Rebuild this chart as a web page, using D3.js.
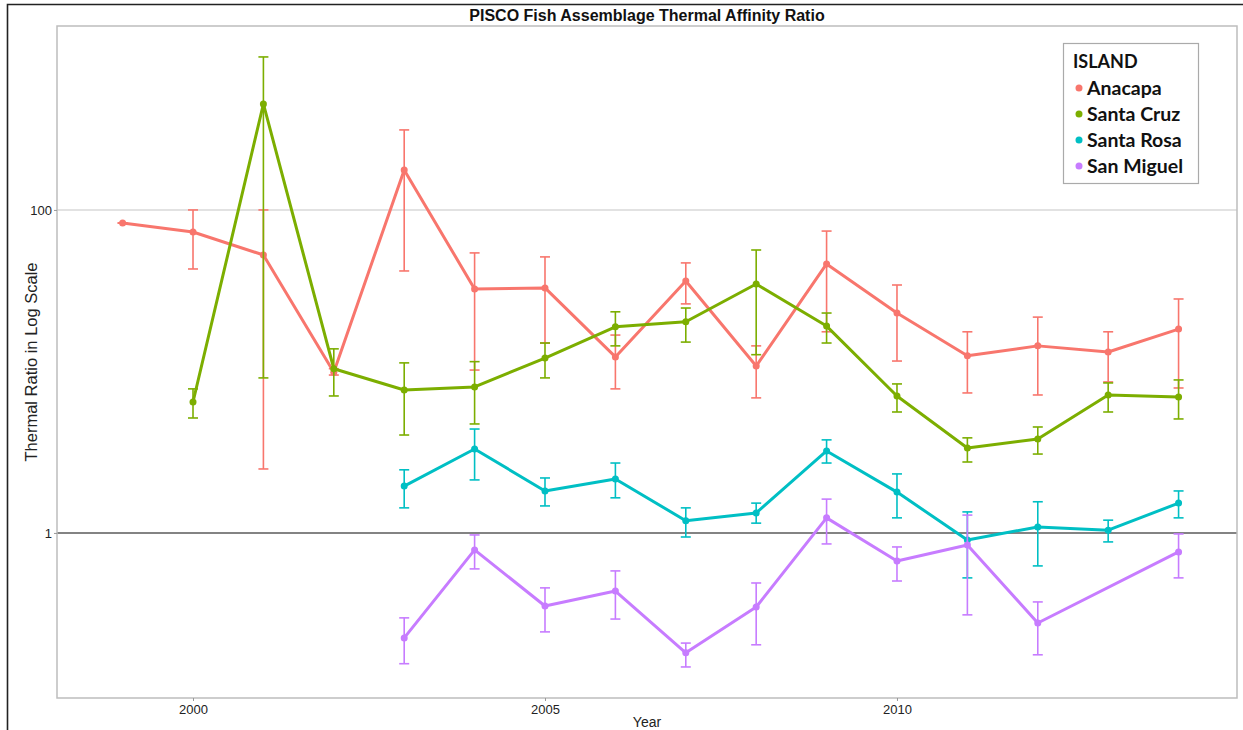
<!DOCTYPE html>
<html>
<head>
<meta charset="utf-8">
<script src="https://cdn.jsdelivr.net/npm/d3@7"></script>
<style>
  html, body { margin: 0; padding: 0; background: #fff; }
  svg { display: block; }
</style>
</head>
<body>
<svg id="chart" width="1243" height="730"></svg>
<script>
// ---- data ----
const islands = ["Anacapa", "Santa Cruz", "Santa Rosa", "San Miguel"];
const islandColors = ["#F8766D", "#7CAE00", "#00BFC4", "#C77CFF"];

const anacapaYears = [1999, 2000, 2001, 2002, 2003, 2004, 2005, 2006, 2007, 2008, 2009, 2010, 2011, 2012, 2013, 2014];
const anacapaMean  = [83, 73, 52.6, 9.9, 177, 32.4, 32.9, 12.3, 36.3, 10.8, 46.3, 23.0, 12.5, 14.4, 13.2, 18.3];
const anacapaLow   = [83, 43.1, 2.49, 9.5, 41.9, 10.2, 15.0, 7.8, 26.2, 6.86, 17.6, 11.6, 7.36, 7.15, 8.61, 7.9];
const anacapaHigh  = [83, 100, 100, 10.4, 313, 54.2, 51.2, 16.8, 47, 14.4, 74, 34.3, 17.6, 21.7, 17.6, 28.1];

const santaCruzYears = [2000, 2001, 2002, 2003, 2004, 2005, 2006, 2007, 2008, 2009, 2010, 2011, 2012, 2013, 2014];
const santaCruzMean  = [6.47, 453, 10.4, 7.68, 8.02, 12.1, 18.9, 20.3, 34.8, 19.1, 7.05, 3.36, 3.82, 7.15, 6.95];
const santaCruzLow   = [5.15, 9.12, 7.05, 4.04, 4.73, 9.12, 14.4, 15.2, 12.7, 15.0, 5.61, 2.75, 3.08, 5.61, 5.08];
const santaCruzHigh  = [7.8, 886, 13.8, 11.3, 11.5, 15.0, 23.4, 24.7, 56.5, 23.0, 8.37, 3.88, 4.53, 8.49, 8.86];

const santaRosaYears = [2003, 2004, 2005, 2006, 2007, 2008, 2009, 2010, 2011, 2012, 2013, 2014];
const santaRosaMean  = [1.95, 3.31, 1.82, 2.16, 1.19, 1.33, 3.22, 1.79, 0.905, 1.09, 1.04, 1.53];
const santaRosaLow   = [1.43, 2.13, 1.47, 1.65, 0.944, 1.15, 2.71, 1.24, 0.527, 0.625, 0.88, 1.24];
const santaRosaHigh  = [2.46, 4.40, 2.19, 2.71, 1.43, 1.53, 3.77, 2.32, 1.35, 1.56, 1.20, 1.82];

const sanMiguelYears = [2003, 2004, 2005, 2006, 2007, 2008, 2009, 2010, 2011, 2012, 2014];
const sanMiguelMean  = [0.224, 0.785, 0.353, 0.437, 0.181, 0.348, 1.24, 0.671, 0.843, 0.277, 0.763];
const sanMiguelLow   = [0.155, 0.599, 0.244, 0.293, 0.148, 0.203, 0.855, 0.504, 0.311, 0.176, 0.527];
const sanMiguelHigh  = [0.298, 0.972, 0.457, 0.582, 0.208, 0.490, 1.62, 0.819, 1.29, 0.374, 0.986];

const xTicks = [2000, 2005, 2010];
const yTicks = [1, 100];
const yTickLabels = ["1", "100"];

const titleText = "PISCO Fish Assemblage Thermal Affinity Ratio";
const xTitle = "Year";
const yTitle = "Thermal Ratio in Log Scale";
const legendTitle = "ISLAND";

// ---- build series ----
function build(years, mean, low, high) {
  return years.map((yr, i) => ({ year: yr, mean: mean[i], low: low[i], high: high[i] }));
}
const series = [
  build(anacapaYears, anacapaMean, anacapaLow, anacapaHigh),
  build(santaCruzYears, santaCruzMean, santaCruzLow, santaCruzHigh),
  build(santaRosaYears, santaRosaMean, santaRosaLow, santaRosaHigh),
  build(sanMiguelYears, sanMiguelMean, sanMiguelLow, sanMiguelHigh)
];

// ---- layout ----
const svg = d3.select("#chart");
const panel = { left: 57, right: 1237, top: 26, bottom: 698 };
const FONT = "Liberation Sans, Arial, sans-serif";

const x = d3.scaleLinear().domain([1998.068, 2014.83]).range([panel.left, panel.right]);
const y = d3.scaleLog().domain([Math.pow(10, -1.022), Math.pow(10, 3.139)]).range([panel.bottom, panel.top]);

// outer frame
svg.append("path")
  .attr("d", "M7.5,730 L7.5,4.5 L1243,4.5")
  .attr("fill", "none").attr("stroke", "#222").attr("stroke-width", 1.6);

// panel background
svg.append("rect")
  .attr("x", panel.left).attr("y", panel.top)
  .attr("width", panel.right - panel.left).attr("height", panel.bottom - panel.top)
  .attr("fill", "#fff");

// gridline at 100
svg.append("line")
  .attr("x1", panel.left).attr("x2", panel.right)
  .attr("y1", y(100)).attr("y2", y(100))
  .attr("stroke", "#d9d9d9").attr("stroke-width", 1.5);

// reference line at 1
svg.append("line")
  .attr("x1", panel.left).attr("x2", panel.right)
  .attr("y1", y(1)).attr("y2", y(1))
  .attr("stroke", "#5a5a5a").attr("stroke-width", 1.5);

// panel border
svg.append("rect")
  .attr("x", panel.left).attr("y", panel.top)
  .attr("width", panel.right - panel.left).attr("height", panel.bottom - panel.top)
  .attr("fill", "none").attr("stroke", "#bdbdbd").attr("stroke-width", 1.5);

// axes
const xAxis = d3.axisBottom(x).tickValues(xTicks).tickFormat(d3.format("d")).tickSize(3).tickPadding(4);
const gx = svg.append("g").attr("transform", `translate(0,${panel.bottom})`).call(xAxis);
gx.select(".domain").remove();
gx.selectAll(".tick line").attr("stroke", "#999");
gx.selectAll(".tick text").attr("fill", "#222").attr("font-family", FONT).attr("font-size", 13);

const yAxis = d3.axisLeft(y).tickValues(yTicks).tickFormat(d => yTickLabels[yTicks.indexOf(d)]).tickSize(3).tickPadding(2);
const gy = svg.append("g").attr("transform", `translate(${panel.left},0)`).call(yAxis);
gy.select(".domain").remove();
gy.selectAll(".tick line").attr("stroke", "#999");
gy.selectAll(".tick text").attr("fill", "#222").attr("font-family", FONT).attr("font-size", 13);

// titles
svg.append("text")
  .attr("x", (panel.left + panel.right) / 2).attr("y", 21)
  .attr("text-anchor", "middle")
  .attr("font-family", FONT)
  .attr("font-weight", "bold").attr("font-size", 16).attr("fill", "#111")
  .text(titleText);

svg.append("text")
  .attr("x", (panel.left + panel.right) / 2).attr("y", 727)
  .attr("text-anchor", "middle")
  .attr("font-family", FONT)
  .attr("font-size", 14).attr("fill", "#222")
  .text(xTitle);

svg.append("text")
  .attr("transform", `translate(37,${(panel.top + panel.bottom) / 2}) rotate(-90)`)
  .attr("text-anchor", "middle")
  .attr("font-family", FONT)
  .attr("font-size", 16.5).attr("fill", "#222")
  .text(yTitle);

// data
const line = d3.line().x(d => x(d.year)).y(d => y(d.mean));
const capHalf = 5;

series.forEach((s, i) => {
  const col = islandColors[i];
  const g = svg.append("g");
  const eb = g.selectAll(".eb").data(s).enter().append("g");
  eb.append("line")
    .attr("x1", d => x(d.year)).attr("x2", d => x(d.year))
    .attr("y1", d => y(d.low)).attr("y2", d => y(d.high))
    .attr("stroke", col).attr("stroke-width", 1.6);
  eb.append("line")
    .attr("x1", d => x(d.year) - capHalf).attr("x2", d => x(d.year) + capHalf)
    .attr("y1", d => y(d.low)).attr("y2", d => y(d.low))
    .attr("stroke", col).attr("stroke-width", 1.6);
  eb.append("line")
    .attr("x1", d => x(d.year) - capHalf).attr("x2", d => x(d.year) + capHalf)
    .attr("y1", d => y(d.high)).attr("y2", d => y(d.high))
    .attr("stroke", col).attr("stroke-width", 1.6);
  g.append("path").datum(s)
    .attr("d", line)
    .attr("fill", "none").attr("stroke", col)
    .attr("stroke-width", 3).attr("stroke-linejoin", "round");
  g.selectAll("circle").data(s).enter().append("circle")
    .attr("cx", d => x(d.year)).attr("cy", d => y(d.mean))
    .attr("r", 3.5).attr("fill", col);
});

// legend
const lg = svg.append("g");
lg.append("rect")
  .attr("x", 1063.5).attr("y", 43.5).attr("width", 135).attr("height", 140)
  .attr("fill", "#fff").attr("stroke", "#aaa").attr("stroke-width", 1.2);
lg.append("text")
  .attr("x", 1073).attr("y", 68)
  .attr("font-family", "Lato, Open Sans, sans-serif").attr("font-weight", "bold")
  .attr("font-size", 18).attr("fill", "#111")
  .text(legendTitle);
islands.forEach((name, i) => {
  const cy = 88 + i * 26;
  lg.append("circle").attr("cx", 1079).attr("cy", cy).attr("r", 3.5).attr("fill", islandColors[i]);
  lg.append("text")
    .attr("x", 1087).attr("y", cy + 6.5)
    .attr("font-family", "Lato, Open Sans, sans-serif").attr("font-weight", "bold")
    .attr("font-size", 19.5).attr("fill", "#111")
    .text(name);
});
</script>
</body>
</html>
